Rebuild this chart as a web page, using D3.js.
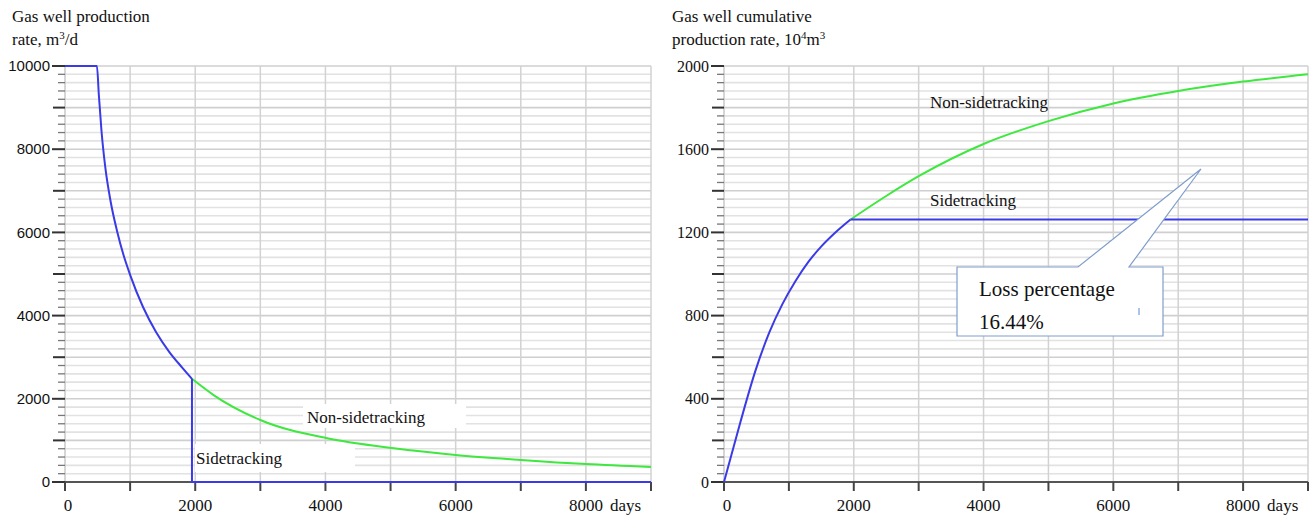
<!DOCTYPE html>
<html>
<head>
<meta charset="utf-8">
<script src="https://cdn.jsdelivr.net/npm/d3@7"></script>
<style>
  body { margin: 0; background: #fff; }
  svg { display: block; }
</style>
</head>
<body>
<div id="chart"></div>
<script>
// Gas well production rate, m3/d
const rateSidetracking = [
  [0, 10000], [490, 10000], [520, 9300], [560, 8450], [620, 7550], [700, 6750],
  [800, 6030], [900, 5450], [1000, 4980], [1200, 4200], [1400, 3600],
  [1600, 3130], [1800, 2750], [1950, 2480]
];
const rateSidetrackingTail = [[1950, 2480], [1950, 0], [9000, 0]];
const rateNonSidetracking = [
  [1950, 2480], [2282, 2090], [3000, 1490], [4026, 1050], [5051, 810],
  [6000, 650], [7000, 530], [8000, 430], [9000, 360]
];

// Cumulative production, 10^4 m3
const cumSidetracking = [
  [0, 0], [250, 285], [490, 540], [700, 720], [900, 855], [1100, 965],
  [1300, 1058], [1500, 1133], [1700, 1195], [1950, 1262]
];
const cumSidetrackingTail = [[1950, 1262], [9000, 1262]];
const cumNonSidetracking = [
  [1950, 1262], [2500, 1375], [3000, 1470], [4000, 1625], [5000, 1735],
  [6000, 1820], [7000, 1880], [8000, 1925], [9000, 1960]
];

const xTickLabels = [0, 2000, 4000, 6000, 8000];
const rateTickLabels = [0, 2000, 4000, 6000, 8000, 10000];
const cumTickLabels = [0, 400, 800, 1200, 1600, 2000];

const width = 1314, height = 517;
const blue = "#3a3ae6", green = "#3ee83e";
const serif = "Liberation Serif, Times New Roman, serif";
const sans = "Liberation Sans, Arial, sans-serif";

const svg = d3.select("#chart").append("svg")
  .attr("width", width).attr("height", height)
  .attr("viewBox", [0, 0, width, height]);

function panel(opt) {
  const x = d3.scaleLinear([0, 9000], [opt.left, opt.right]);
  const y = d3.scaleLinear([0, opt.ymax], [482, 66]);
  const g = svg.append("g");

  // horizontal grid, minor + major
  const minor = d3.range(opt.minorStep, opt.ymax + 1, opt.minorStep);
  g.append("g").selectAll("line").data(minor).join("line")
    .attr("x1", x(0)).attr("x2", x(9000))
    .attr("y1", d => y(d)).attr("y2", d => y(d))
    .attr("stroke", d => d % opt.midStep === 0 ? "#cfcfcf" : "#e2e2e2")
    .attr("stroke-width", 1.6);

  // vertical grid every 1000 days
  g.append("g").selectAll("line").data(d3.range(1000, 9001, 1000)).join("line")
    .attr("x1", d => x(d)).attr("x2", d => x(d))
    .attr("y1", y(opt.ymax)).attr("y2", y(0))
    .attr("stroke", "#d2d2d2").attr("stroke-width", 1.5);

  // y axis line
  g.append("line")
    .attr("x1", x(0)).attr("x2", x(0)).attr("y1", y(opt.ymax)).attr("y2", y(0))
    .attr("stroke", "#c8c8c8").attr("stroke-width", 1.5);

  // y ticks
  g.append("g").selectAll("line").data([0, ...minor]).join("line")
    .attr("x1", d => d % opt.labelStep === 0 ? x(0) - 13 : d % opt.midStep === 0 ? x(0) - 12 : x(0) - 7)
    .attr("x2", x(0))
    .attr("y1", d => y(d)).attr("y2", d => y(d))
    .attr("stroke", d => d % opt.midStep === 0 ? "#333" : "#777")
    .attr("stroke-width", d => d % opt.midStep === 0 ? 2 : 1.3);

  g.append("g").selectAll("text").data(opt.yLabels).join("text")
    .attr("x", x(0) - 15).attr("y", d => y(d))
    .attr("dy", "0.35em").attr("text-anchor", "end")
    .attr("font-family", opt.yFont).attr("font-size", opt.yFontSize).attr("fill", "#111")
    .text(d => d);

  // x axis
  g.append("line")
    .attr("x1", x(0)).attr("x2", x(9000)).attr("y1", y(0)).attr("y2", y(0))
    .attr("stroke", "#555").attr("stroke-width", 2);
  g.append("g").selectAll("line").data(d3.range(0, 9001, 1000)).join("line")
    .attr("x1", d => x(d)).attr("x2", d => x(d))
    .attr("y1", y(0)).attr("y2", y(0) + 9)
    .attr("stroke", "#444").attr("stroke-width", 2);
  g.append("g").selectAll("text").data(xTickLabels).join("text")
    .attr("x", d => x(d) + (d === 0 ? 3 : 0)).attr("y", 511)
    .attr("text-anchor", "middle")
    .attr("font-family", serif).attr("font-size", 17).attr("fill", "#111")
    .text(d => d);
  g.append("text")
    .attr("x", x(8000) + 24).attr("y", 511)
    .attr("font-family", serif).attr("font-size", 17).attr("fill", "#111")
    .text("days");

  // title
  const t = g.append("text")
    .attr("font-family", serif).attr("font-size", 17).attr("fill", "#111");
  t.append("tspan").attr("x", opt.titleX).attr("y", 22).text(opt.title1);
  const t2 = t.append("tspan").attr("x", opt.titleX).attr("y", 45);
  opt.title2(t2);

  return { x, y, g };
}

// ---------- left panel ----------
const L = panel({
  left: 65, right: 651, ymax: 10000, minorStep: 200, midStep: 1000, labelStep: 2000,
  yLabels: rateTickLabels, yFont: sans, yFontSize: 15, titleX: 12,
  title1: "Gas well production",
  title2: s => {
    s.append("tspan").text("rate, m");
    s.append("tspan").attr("font-size", 11).attr("dy", -6).text("3");
    s.append("tspan").attr("dy", 6).text("/d");
  }
});

// white label backgrounds
L.g.append("rect").attr("x", 303).attr("y", 404).attr("width", 163).attr("height", 24).attr("fill", "#fff");
L.g.append("rect").attr("x", 195).attr("y", 444).attr("width", 160).attr("height", 28).attr("fill", "#fff");

const lineL = d3.line().x(d => L.x(d[0])).y(d => L.y(d[1]));
L.g.append("path").attr("d", lineL.curve(d3.curveMonotoneX)(rateNonSidetracking))
  .attr("fill", "none").attr("stroke", green).attr("stroke-width", 2);
L.g.append("path").attr("d", lineL.curve(d3.curveMonotoneX)(rateSidetracking))
  .attr("fill", "none").attr("stroke", blue).attr("stroke-width", 2);
L.g.append("path").attr("d", lineL.curve(d3.curveLinear)(rateSidetrackingTail))
  .attr("fill", "none").attr("stroke", blue).attr("stroke-width", 2);

L.g.append("text").attr("x", 307).attr("y", 423)
  .attr("font-family", serif).attr("font-size", 17).attr("fill", "#111").text("Non-sidetracking");
L.g.append("text").attr("x", 196).attr("y", 464)
  .attr("font-family", serif).attr("font-size", 17).attr("fill", "#111").text("Sidetracking");

// ---------- right panel ----------
const R = panel({
  left: 724, right: 1308, ymax: 2000, minorStep: 40, midStep: 200, labelStep: 400,
  yLabels: cumTickLabels, yFont: serif, yFontSize: 16, titleX: 672,
  title1: "Gas well cumulative",
  title2: s => {
    s.append("tspan").text("production rate, 10");
    s.append("tspan").attr("font-size", 11).attr("dy", -6).text("4");
    s.append("tspan").attr("dy", 6).text("m");
    s.append("tspan").attr("font-size", 11).attr("dy", -6).text("3");
  }
});

const lineR = d3.line().x(d => R.x(d[0])).y(d => R.y(d[1]));
R.g.append("path").attr("d", lineR.curve(d3.curveMonotoneX)(cumNonSidetracking))
  .attr("fill", "none").attr("stroke", green).attr("stroke-width", 2);
R.g.append("path").attr("d", lineR.curve(d3.curveMonotoneX)(cumSidetracking))
  .attr("fill", "none").attr("stroke", blue).attr("stroke-width", 2);
R.g.append("path").attr("d", lineR.curve(d3.curveLinear)(cumSidetrackingTail))
  .attr("fill", "none").attr("stroke", blue).attr("stroke-width", 2);

R.g.append("text").attr("x", 930).attr("y", 108)
  .attr("font-family", serif).attr("font-size", 17).attr("fill", "#111").text("Non-sidetracking");
R.g.append("text").attr("x", 930).attr("y", 206)
  .attr("font-family", serif).attr("font-size", 17).attr("fill", "#111").text("Sidetracking");

// callout
const bx0 = 957, bx1 = 1163, by0 = 267, by1 = 336;
const callout = [[bx0, by0], [1078, by0], [1201, 169], [1129, by0], [bx1, by0], [bx1, by1], [bx0, by1]];
R.g.append("path").attr("d", "M" + callout.join("L") + "Z")
  .attr("fill", "#fff").attr("stroke", "#7f9dcc").attr("stroke-width", 1.2);
R.g.append("text").attr("x", 979).attr("y", 296)
  .attr("font-family", serif).attr("font-size", 21).attr("fill", "#111").text("Loss percentage");
R.g.append("text").attr("x", 979).attr("y", 329)
  .attr("font-family", serif).attr("font-size", 21).attr("fill", "#111").text("16.44%");
R.g.append("line").attr("x1", 1139).attr("x2", 1139).attr("y1", 308).attr("y2", 315)
  .attr("stroke", "#8fb0e0").attr("stroke-width", 1.5);
</script>
</body>
</html>
